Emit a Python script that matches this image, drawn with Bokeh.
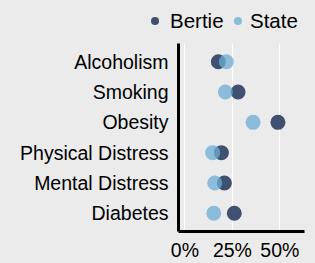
from bokeh.plotting import figure
from bokeh.layouts import column
from bokeh.models import FactorRange, ColumnDataSource, FixedTicker, Div
from bokeh.embed import file_html
from bokeh.resources import INLINE

measures = ["Alcoholism", "Smoking", "Obesity", "Physical Distress", "Mental Distress", "Diabetes"]
bertie = [17.6, 28.0, 49.0, 19.2, 20.8, 26.0]
state = [21.8, 21.3, 35.9, 14.6, 15.7, 15.2]
x_ticks = [0, 25, 50]
x_tick_labels = {0: "0%", 25: "25%", 50: "50%"}
series_names = ["Bertie", "State"]

BG = "#ebebeb"
FONT = "Liberation Sans"
C_BERTIE = "#2c3f63"
C_STATE = "#6baed6"
ALPHAS = [0.9, 0.75]

p = figure(width=315, height=220, output_backend="svg", toolbar_location=None,
           y_range=FactorRange(factors=list(reversed(measures)), range_padding=0.1,
                               range_padding_units="absolute"),
           x_range=(-3.4, 63),
           background_fill_color=BG, border_fill_color=BG,
           min_border_left=178, min_border_right=11, min_border_top=0, min_border_bottom=30)
p.outline_line_color = None

src = ColumnDataSource(dict(m=measures, b=bertie, s=state))
p.scatter(x="b", y="m", source=src, size=15, color=C_BERTIE, alpha=ALPHAS[0], line_color=None)
p.scatter(x="s", y="m", source=src, size=15, color=C_STATE, alpha=ALPHAS[1], line_color=None)

p.ygrid.grid_line_color = None
p.xgrid.grid_line_color = "white"
p.xgrid.grid_line_width = 1
p.xgrid.ticker = FixedTicker(ticks=x_ticks)

p.xaxis.ticker = FixedTicker(ticks=x_ticks)
p.xaxis.major_label_overrides = x_tick_labels
for ax in (p.xaxis[0], p.yaxis[0]):
    ax.axis_line_color = "black"
    ax.axis_line_width = 3
    ax.major_tick_line_color = None
    ax.minor_tick_line_color = None
    ax.major_tick_out = 0
    ax.major_tick_in = 0
    ax.major_label_text_font = FONT
    ax.major_label_text_font_size = "19.5px"
    ax.major_label_text_color = "black"
p.yaxis.major_label_standoff = 10
p.xaxis.major_label_standoff = 7

# legend strip above the chart, as HTML text
dot_left = [151, 234]
text_left = [170, 250]
parts = []
for name, col, a, dl, tl in zip(series_names, [C_BERTIE, C_STATE], ALPHAS, dot_left, text_left):
    parts.append(f'<div style="position:absolute;left:{dl}px;top:17px;width:8px;height:8px;'
                 f'border-radius:50%;background:{col};opacity:{a}"></div>')
    parts.append(f'<div style="position:absolute;left:{tl}px;top:9px;line-height:23px;'
                 f'white-space:nowrap">{name}</div>')
html = (f'<div style="position:relative;width:315px;height:43px;background:{BG};'
        f'font-family:\'{FONT}\';font-size:20.5px;color:black">' + "".join(parts) + "</div>")
top = Div(text=html, width=315, height=43, styles={"background-color": BG, "margin": "0"})

layout = column(top, p, spacing=0, styles={"background-color": BG})
open("out.html", "w").write(file_html(layout, INLINE))
